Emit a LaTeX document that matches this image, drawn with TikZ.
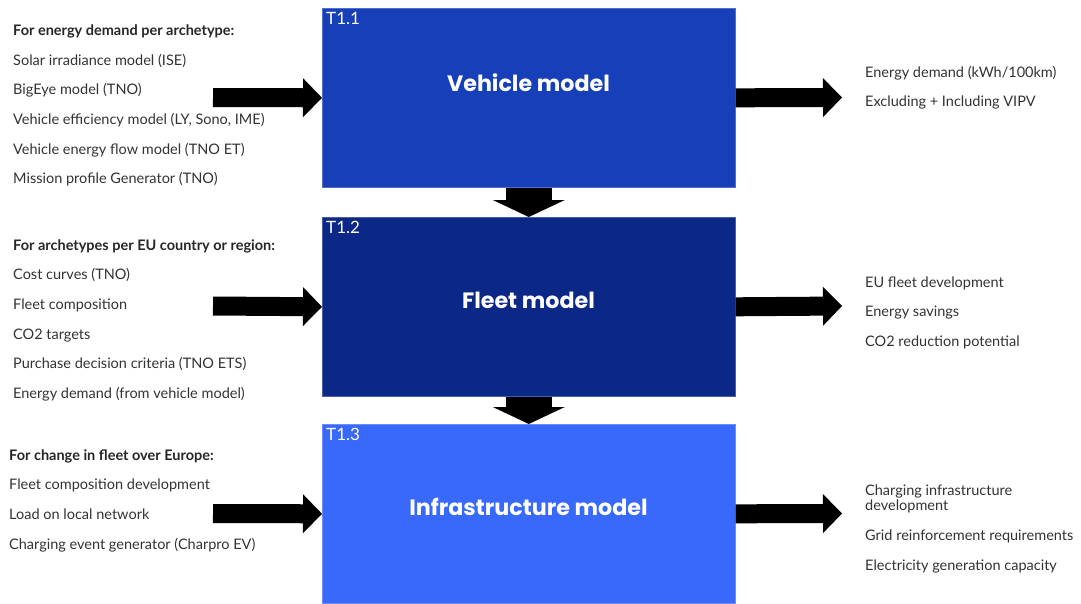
\documentclass[tikz,border=0pt]{standalone}
\usepackage{fontspec}
\setmainfont{Lato}
\newfontfamily\titlefont{Poppins}
\usetikzlibrary{arrows.meta}
\definecolor{boxA}{HTML}{1740B8}
\definecolor{boxB}{HTML}{0B2887}
\definecolor{boxC}{HTML}{3969FB}
\definecolor{txt}{HTML}{333333}
\begin{document}
\begin{tikzpicture}[x=1pt,y=-1pt,
  modelbox/.style={rectangle, draw=#1!75!white, line width=0.6pt, fill=#1, minimum width=413pt, minimum height=179pt, inner sep=0pt, anchor=north west},
  tasklabel/.style={text=white, font=\fontsize{17}{19}\selectfont, anchor=north west, inner sep=0pt},
  boxtitle/.style={text=white, font=\titlefont\fontsize{22.2}{25}\selectfont\bfseries, inner sep=0pt},
  item/.style={text=txt, font=\fontsize{14.5}{15.5}\selectfont, anchor=mid west, inner sep=0pt, yshift=-2.5pt},
  head/.style={item, font=\fontsize{14.5}{15.5}\selectfont\bfseries, text=black!85},
  flow/.style={line width=19pt, -{Triangle[width=39pt,length=19pt,line width=0pt]}},
  down/.style={line width=46pt, -{Triangle[width=72pt,length=17pt,line width=0pt]}},
]
\useasboundingbox[fill=white] (0,0) rectangle (1081,603);

% model boxes
\node[modelbox=boxA] (b1) at (322,8) {};
\node[modelbox=boxB] (b2) at (322,217) {};
\node[modelbox=boxC] (b3) at (322,424) {};

\node[tasklabel] (l1) at (326,12) {T1.1};
\node[tasklabel] (l2) at (326,221) {T1.2};
\node[tasklabel] (l3) at (326,428) {T1.3};

\node[boxtitle] (t1) at (528.5,83) {Vehicle model};
\node[boxtitle] (t2) at (528.5,300) {Fleet model};
\node[boxtitle] (t3) at (528.5,507) {Infrastructure model};

% inputs row 1
\node[head] (h1) at (13,30) {For energy demand per archetype:};
\node[item] (i11) at (13,60) {Solar irradiance model (ISE)};
\node[item] (i12) at (13,89.5) {BigEye model (TNO)};
\node[item] (i13) at (13,119) {Vehicle efficiency model (LY, Sono, IME)};
\node[item] (i14) at (13,149) {Vehicle energy flow model (TNO ET)};
\node[item] (i15) at (13,178.5) {Mission profile Generator (TNO)};

% inputs row 2
\node[head] (h2) at (13,245) {For archetypes per EU country or region:};
\node[item] (i21) at (13,274.5) {Cost curves (TNO)};
\node[item] (i22) at (13,304) {Fleet composition};
\node[item] (i23) at (13,334) {CO2 targets};
\node[item] (i24) at (13,363.5) {Purchase decision criteria (TNO ETS)};
\node[item] (i25) at (13,393) {Energy demand (from vehicle model)};

% inputs row 3
\node[head] (h3) at (9,455) {For change in fleet over Europe:};
\node[item] (i31) at (9,484.5) {Fleet composition development};
\node[item] (i32) at (9,514.5) {Load on local network};
\node[item] (i33) at (9,544.5) {Charging event generator (Charpro EV)};

% outputs
\node[item] (o11) at (865,72.5) {Energy demand (kWh/100km)};
\node[item] (o12) at (865,101.5) {Excluding + Including VIPV};
\node[item] (o21) at (865,282) {EU fleet development};
\node[item] (o22) at (865,311.5) {Energy savings};
\node[item] (o23) at (865,341) {CO2 reduction potential};
\node[item] (o31) at (865,490) {Charging infrastructure};
\node[item] (o31b) at (865,505) {development};
\node[item] (o32) at (865,535.5) {Grid reinforcement requirements};
\node[item] (o33) at (865,565) {Electricity generation capacity};

% arrow endpoints
\coordinate (in1) at (213,97.5);
\coordinate (in2) at (213,306);
\coordinate (in3) at (213,513.5);
\coordinate (out1) at (842,97.5);
\coordinate (out2) at (842,306);
\coordinate (out3) at (842,513.5);

\draw[flow] (in1) -- (b1.west);
\draw[flow] (in2) -- (b2.west);
\draw[flow] (in3) -- (b3.west);
\draw[flow] (b1.east) -- (out1);
\draw[flow] (b2.east) -- (out2);
\draw[flow] (b3.east) -- (out3);
\draw[down] (b1.south) -- (b2.north);
\draw[down] (b2.south) -- (b3.north);
\end{tikzpicture}
\end{document}
